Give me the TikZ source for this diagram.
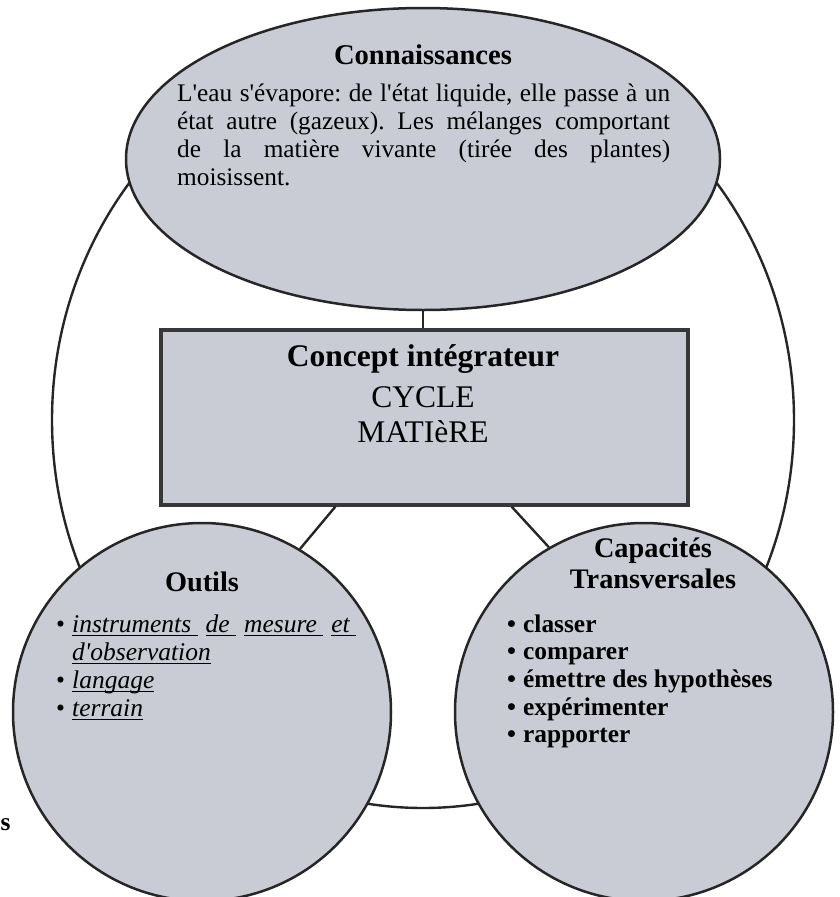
\documentclass[tikz,border=0pt]{standalone}
\usepackage{fontspec}
\setmainfont{Liberation Serif}
\usetikzlibrary{shapes.geometric}
\definecolor{shapefill}{RGB}{201,204,212}
\definecolor{edgecol}{RGB}{38,38,38}
\newcommand\myul[1]{\setbox0\hbox{#1}\rlap{\rule[-4pt]{\wd0}{1.4pt}}\box0}
\newcommand\aq{\textquotesingle}
\frenchspacing
\begin{document}
\begin{tikzpicture}[x=1pt,y=-1pt,
  shp/.style={draw=edgecol, line width=2.5pt, fill=shapefill, inner sep=0pt},
  conn/.style={draw=edgecol, line width=2.4pt},
  lbl/.style={inner sep=0pt, text=black}]
\useasboundingbox (0,0) rectangle (840,897);
% outer ring
\node[ellipse, draw=edgecol, line width=2.4pt, minimum width=742pt, minimum height=776pt, inner sep=0pt] (outer) at (423,420) {};
% main shapes
\node[shp, ellipse, minimum width=594pt, minimum height=302pt] (know) at (423,159) {};
\node[shp, rectangle, minimum width=527pt, minimum height=175pt, line width=3.2pt, draw={rgb,255:red,55;green,55;blue,55}] (concept) at (424.5,417.5) {};
\node[shp, circle, minimum size=378pt] (tools) at (202,712) {};
\node[shp, circle, minimum size=378pt] (skills) at (644,712) {};
% connectors
\draw[conn] (know.south) -- (know.south |- concept.north);
\draw[conn] ([xshift=176pt]concept.south west) -- (tools.59.7);
\draw[conn] ([xshift=-178pt]concept.south east) -- (skills.120.3);
% texts
\node[lbl, font=\bfseries\fontsize{28.6}{30}\selectfont, anchor=base] (knowt) at (423,64) {Connaissances};
\node[lbl, anchor=base west] (knowb) at (177,101) {\parbox[t]{493pt}{\fontsize{25.3}{28.3}\selectfont
L\aq eau s\aq évapore: de l\aq état liquide, elle passe à un\linebreak
état autre (gazeux). Les mélanges comportant\linebreak
de la matière vivante (tirée des plantes)\linebreak
moisissent.}};
\node[lbl, font=\bfseries\fontsize{31.5}{34}\selectfont, anchor=base] (ct1) at (423,366) {Concept intégrateur};
\node[lbl, font=\fontsize{31.5}{34}\selectfont, anchor=base] (ct2) at (423,407) {CYCLE};
\node[lbl, font=\fontsize{31.5}{34}\selectfont, anchor=base] (ct3) at (423,442) {MATIèRE};
\node[lbl, font=\bfseries\fontsize{28.3}{30}\selectfont, anchor=base] (toolst) at (202,591) {Outils};
\node[lbl, anchor=base west] (toolsl) at (56,632) {\parbox[t]{310pt}{\fontsize{25.5}{28}\selectfont\itshape
\makebox[16pt][l]{\upshape\textbullet}\makebox[284pt][s]{\myul{instruments\ }\hfill\myul{de\ }\hfill\myul{mesure\ }\hfill\myul{et\ }}\\
\hspace*{16pt}\myul{d\aq observation}\\
\makebox[16pt][l]{\upshape\textbullet}\myul{langage}\\
\makebox[16pt][l]{\upshape\textbullet}\myul{terrain}}};
\node[lbl, font=\bfseries\fontsize{28.3}{30}\selectfont, anchor=base] (skillst1) at (653,557) {Capacités};
\node[lbl, font=\bfseries\fontsize{28.3}{30}\selectfont, anchor=base] (skillst2) at (653,588) {Transversales};
\node[lbl, anchor=base west] (skillsl) at (507,632) {\parbox[t]{310pt}{\fontsize{25.4}{27.7}\selectfont\bfseries
\makebox[16pt][l]{\textbullet}classer\\
\makebox[16pt][l]{\textbullet}comparer\\
\makebox[16pt][l]{\textbullet}émettre des hypothèses\\
\makebox[16pt][l]{\textbullet}expérimenter\\
\makebox[16pt][l]{\textbullet}rapporter}};
\node[lbl, font=\bfseries\fontsize{25.4}{28}\selectfont, anchor=base west] (stray) at (0.5,830) {s};
\end{tikzpicture}
\end{document}
